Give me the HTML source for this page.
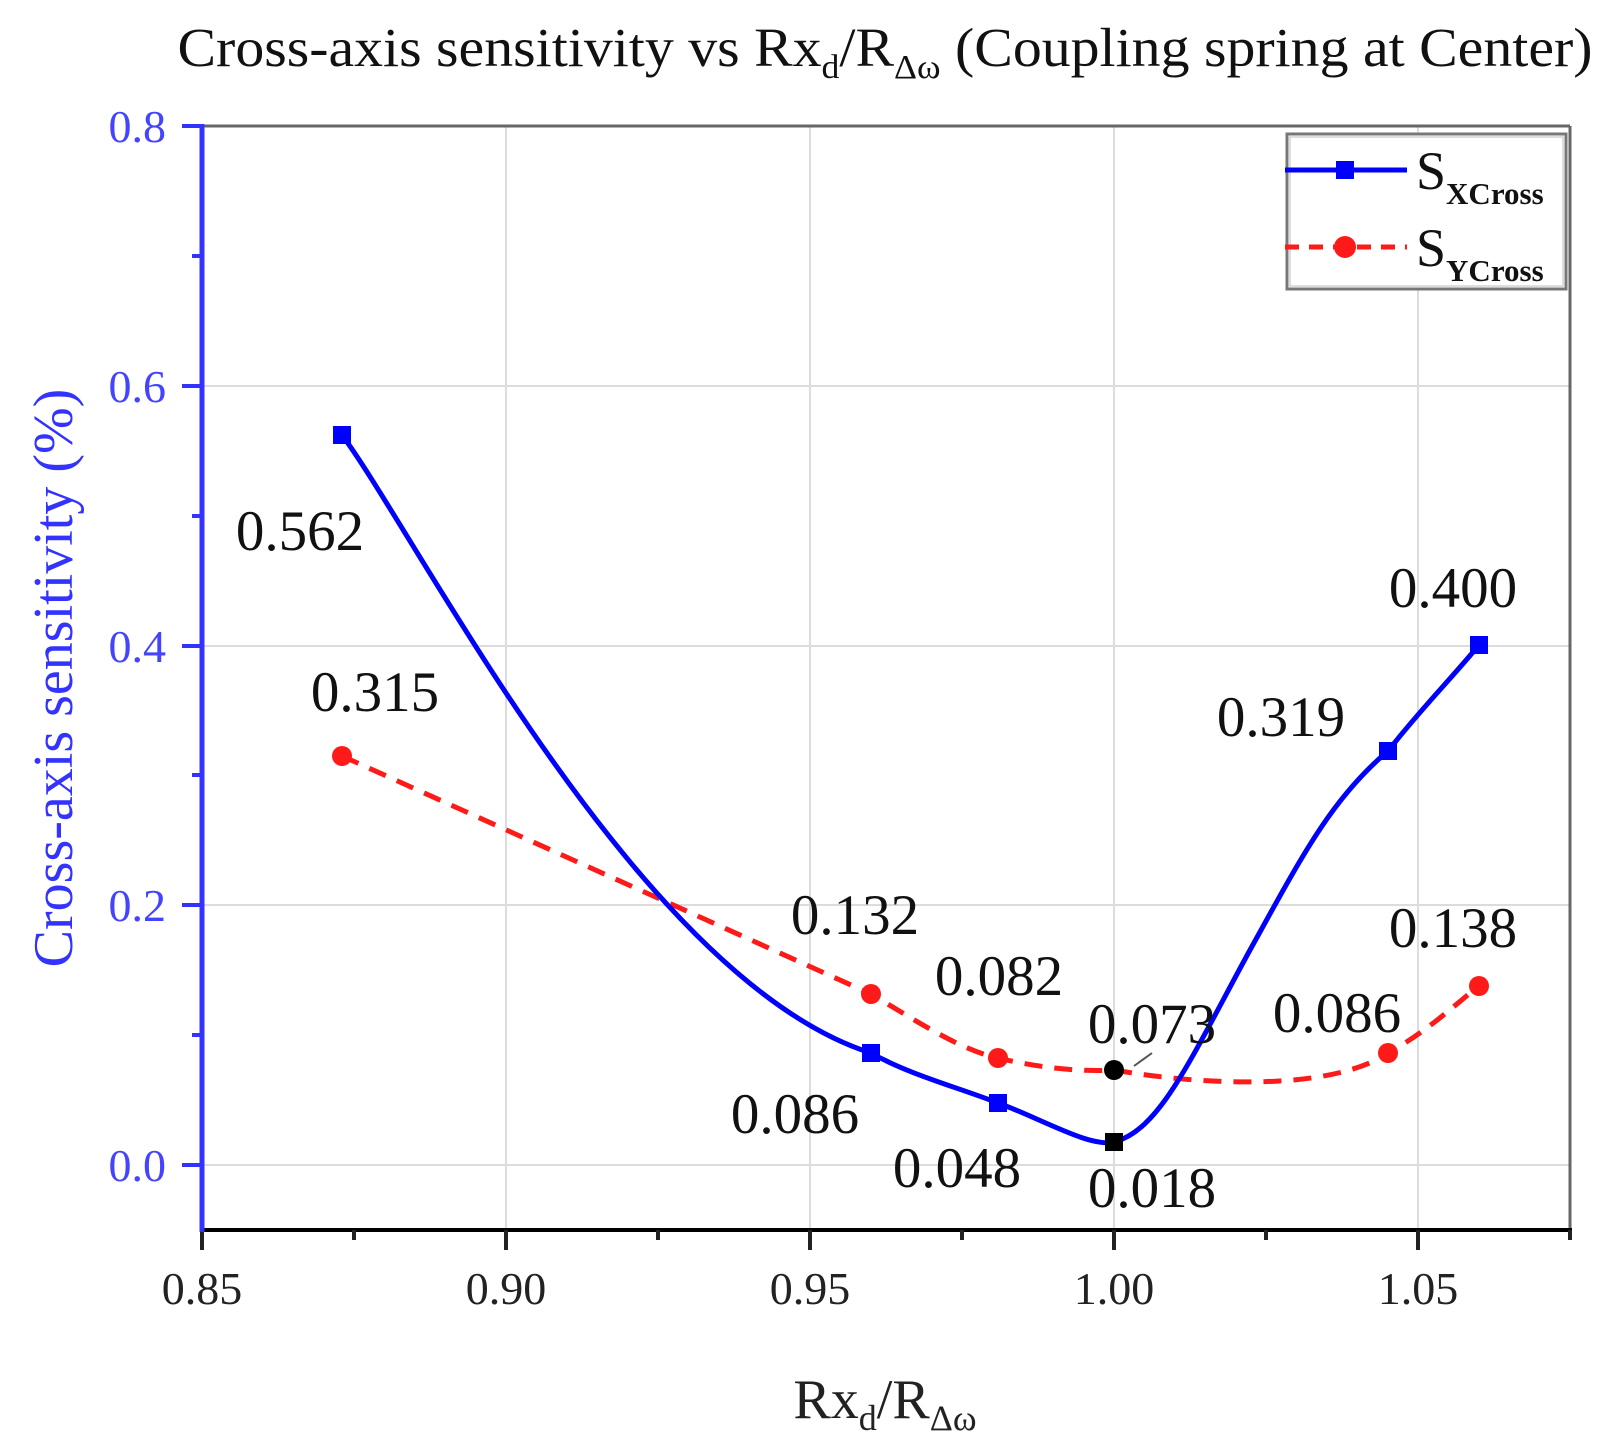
<!DOCTYPE html>
<html><head><meta charset="utf-8"><style>
html,body{margin:0;padding:0;background:#fff;}
svg{display:block;font-family:"Liberation Serif",serif;}
</style></head><body>
<svg width="1622" height="1441" viewBox="0 0 1622 1441" xmlns="http://www.w3.org/2000/svg">
<text x="885" y="66" font-size="55" text-anchor="middle" fill="#111" textLength="1415" lengthAdjust="spacingAndGlyphs">Cross-axis sensitivity  vs Rx<tspan font-size="34" dy="12">d</tspan><tspan dy="-12">/R</tspan><tspan font-size="34" dy="12">Δω</tspan><tspan dy="-12"> (Coupling spring at Center)</tspan></text>
<!-- grid -->
<g stroke="#dcdcdc" stroke-width="2">
<line x1="506" y1="126" x2="506" y2="1230"/><line x1="810" y1="126" x2="810" y2="1230"/>
<line x1="1114" y1="126" x2="1114" y2="1230"/><line x1="1418" y1="126" x2="1418" y2="1230"/>
<line x1="202" y1="1165" x2="1570" y2="1165"/><line x1="202" y1="905" x2="1570" y2="905"/>
<line x1="202" y1="646" x2="1570" y2="646"/><line x1="202" y1="386" x2="1570" y2="386"/>
</g>
<line x1="202" y1="126" x2="1570" y2="126" stroke="#666" stroke-width="3"/>
<line x1="1570" y1="126" x2="1570" y2="1230" stroke="#666" stroke-width="3"/>
<line x1="200" y1="1230" x2="1572" y2="1230" stroke="#000" stroke-width="4"/>
<g stroke="#222" stroke-width="4">
<line x1="202" y1="1230" x2="202" y2="1250"/><line x1="506" y1="1230" x2="506" y2="1250"/>
<line x1="810" y1="1230" x2="810" y2="1250"/><line x1="1114" y1="1230" x2="1114" y2="1250"/>
<line x1="1418" y1="1230" x2="1418" y2="1250"/>
<line x1="354" y1="1230" x2="354" y2="1240"/><line x1="658" y1="1230" x2="658" y2="1240"/>
<line x1="962" y1="1230" x2="962" y2="1240"/><line x1="1266" y1="1230" x2="1266" y2="1240"/>
<line x1="1570" y1="1230" x2="1570" y2="1240"/>
</g>
<line x1="202" y1="124" x2="202" y2="1232" stroke="#3333ff" stroke-width="5"/>
<g stroke="#3333ff" stroke-width="4">
<line x1="182" y1="126" x2="202" y2="126"/><line x1="182" y1="386" x2="202" y2="386"/>
<line x1="182" y1="646" x2="202" y2="646"/><line x1="182" y1="905" x2="202" y2="905"/>
<line x1="182" y1="1165" x2="202" y2="1165"/>
<line x1="192" y1="256" x2="202" y2="256"/><line x1="192" y1="516" x2="202" y2="516"/>
<line x1="192" y1="775" x2="202" y2="775"/><line x1="192" y1="1035" x2="202" y2="1035"/>
</g>
<g font-size="46" fill="#4444ff" text-anchor="end">
<text x="166" y="142">0.8</text><text x="166" y="402">0.6</text><text x="166" y="662">0.4</text>
<text x="166" y="921">0.2</text><text x="166" y="1181">0.0</text>
</g>
<g font-size="46" fill="#222" text-anchor="middle">
<text x="202" y="1304">0.85</text><text x="506" y="1304">0.90</text><text x="810" y="1304">0.95</text>
<text x="1114" y="1304">1.00</text><text x="1418" y="1304">1.05</text>
</g>
<text x="885" y="1418" font-size="56" text-anchor="middle" fill="#222">Rx<tspan font-size="36" dy="12">d</tspan><tspan dy="-12">/R</tspan><tspan font-size="36" dy="12">Δω</tspan></text>
<text transform="translate(72,678) rotate(-90)" font-size="56" text-anchor="middle" fill="#3333ff">Cross-axis sensitivity (%)</text>
<!-- series -->
<path d="M342,756 L871,994 C915,1020 960,1050 998,1058 C1040,1068 1080,1072 1114,1070 C1200,1085 1330,1092 1388,1053 C1430,1030 1460,1000 1479,986" fill="none" stroke="#ff1a1a" stroke-width="5" stroke-dasharray="18,12"/>
<path d="M342,435 C420,540 640,980 871,1053 C910,1075 960,1088 998,1103 C1040,1118 1090,1148 1114,1142 C1160,1130 1190,1060 1250,950 C1300,860 1330,800 1388,751 C1420,710 1450,680 1479,645" fill="none" stroke="#0000ff" stroke-width="5"/>
<g fill="#0000ff">
<rect x="333" y="426" width="18" height="18"/><rect x="862" y="1044" width="18" height="18"/>
<rect x="989" y="1094" width="18" height="18"/><rect x="1379" y="742" width="18" height="18"/>
<rect x="1470" y="636" width="18" height="18"/>
</g>
<rect x="1105" y="1133" width="18" height="18" fill="#000"/>
<g fill="#ff1a1a">
<circle cx="342" cy="756" r="10"/><circle cx="871" cy="994" r="10"/><circle cx="998" cy="1058" r="10"/>
<circle cx="1388" cy="1053" r="10"/><circle cx="1479" cy="986" r="10"/>
</g>
<circle cx="1114" cy="1070" r="10" fill="#000"/>
<line x1="1134" y1="1066" x2="1152" y2="1053" stroke="#555" stroke-width="2"/>
<g font-size="57" fill="#111" text-anchor="middle">
<text x="300" y="550">0.562</text><text x="375" y="711">0.315</text><text x="1453" y="607">0.400</text>
<text x="1281" y="736">0.319</text><text x="855" y="934">0.132</text><text x="999" y="995">0.082</text>
<text x="1152" y="1043">0.073</text><text x="795" y="1133">0.086</text><text x="957" y="1187">0.048</text>
<text x="1152" y="1207">0.018</text><text x="1337" y="1032">0.086</text><text x="1453" y="947">0.138</text>
</g>
<!-- legend -->
<rect x="1287" y="134" width="279" height="155" fill="#fff" stroke="#777" stroke-width="3"/>
<rect x="1290" y="137" width="273" height="149" fill="none" stroke="#bbb" stroke-width="1"/>
<line x1="1285" y1="170" x2="1407" y2="170" stroke="#0000ff" stroke-width="5"/>
<rect x="1336" y="161" width="18" height="18" fill="#0000ff"/>
<line x1="1285" y1="247" x2="1407" y2="247" stroke="#ff1a1a" stroke-width="5" stroke-dasharray="14,10"/>
<circle cx="1345" cy="247" r="11" fill="#ff1a1a"/>
<text x="1416" y="189" font-size="54" fill="#111">S<tspan font-size="31" font-weight="bold" dy="15">XCross</tspan></text>
<text x="1416" y="266" font-size="54" fill="#111">S<tspan font-size="31" font-weight="bold" dy="15">YCross</tspan></text>
</svg>
</body></html>
